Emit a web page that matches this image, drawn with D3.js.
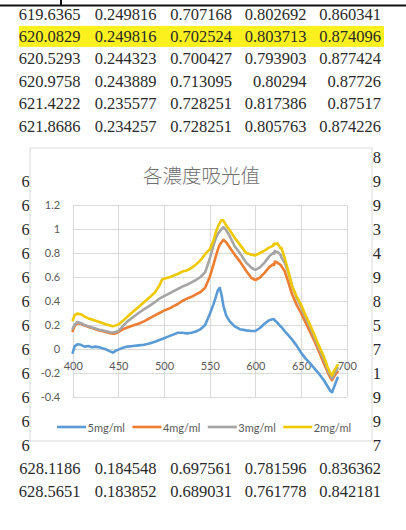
<!DOCTYPE html>
<html>
<head>
<meta charset="utf-8">
<script src="https://cdn.jsdelivr.net/npm/d3@7"></script>
<style>
  html, body { margin: 0; padding: 0; background: #fff; }
  svg { display: block; }
  .cell { font-family: "Liberation Serif", "Times New Roman", Tinos, "Noto Serif", "DejaVu Serif", "Nimbus Roman", FreeSerif, "Noto Serif CJK TC", serif; font-size: 16.5px; fill: #2a2a2a; }
  .lbl { font-family: Lato, "Open Sans", "Liberation Sans", sans-serif; font-size: 11px; fill: #595959; }
  .ttl { font-family: "Noto Sans CJK TC", "Noto Sans CJK SC", sans-serif; font-size: 19.5px; font-weight: 300; fill: #707070; }
</style>
</head>
<body>
<svg id="page" width="406" height="530"></svg>
<script>
// ---- spreadsheet rows (wavelength nm, absorbance at 5/4/3/2 mg/ml) ----
const tableRowNumber = [1, 2, 3, 4, 5, 6, 20, 21];
const tableWave = [619.6365, 620.0829, 620.5293, 620.9758, 621.4222, 621.8686, 628.1186, 628.5651];
const table5 = [0.249816, 0.249816, 0.244323, 0.243889, 0.235577, 0.234257, 0.184548, 0.183852];
const table4 = [0.707168, 0.702524, 0.700427, 0.713095, 0.728251, 0.728251, 0.697561, 0.689031];
const table3 = [0.802692, 0.803713, 0.793903, 0.80294, 0.817386, 0.805763, 0.781596, 0.761778];
const table2 = [0.860341, 0.874096, 0.877424, 0.87726, 0.87517, 0.874226, 0.836362, 0.842181];
const highlightedRow = 2;

// rows lying under the chart: only their first and last characters show
const coveredRowNumber = [7, 8, 9, 10, 11, 12, 13, 14, 15, 16, 17, 18, 19];
const coveredLead = ["", "6", "6", "6", "6", "6", "6", "6", "6", "6", "6", "6", "6"];
const coveredTail = ["8", "9", "9", "3", "4", "9", "8", "5", "7", "1", "9", "9", "7"];

// ---- chart series ----
const chartTitle = "各濃度吸光值";
const seriesNames = ["5mg/ml", "4mg/ml", "3mg/ml", "2mg/ml"];
const seriesColors = ["#5B9BD5", "#ED7D31", "#A5A5A5", "#EEC900"];
const xTicks = [400, 450, 500, 550, 600, 650, 700];
const yTicks = [-0.4, -0.2, 0, 0.2, 0.4, 0.6, 0.8, 1, 1.2];

const wavelengths = [400, 402, 405, 409, 413, 417, 421, 425, 429, 433, 437, 441, 444, 447, 450,
  455, 460, 466, 472, 478, 484, 490, 495, 498, 500, 505, 510, 515, 520, 525, 530, 535, 540, 545,
  550, 554, 557, 559, 561, 563, 565, 568, 572, 577, 583, 590, 596, 600, 605, 610, 615,
  619.6365, 620.0829, 620.5293, 620.9758, 621.4222, 621.8686, 624, 628.1186, 628.5651,
  632, 636, 640, 645, 650, 655, 660, 665, 670, 675, 679, 682, 684, 687, 690];

const abs5 = [-0.03, 0.02, 0.04, 0.035, 0.02, 0.025, 0.015, 0.02, 0.015, 0.005, -0.005, -0.02, -0.03, -0.015, -0.005,
  0.01, 0.02, 0.025, 0.03, 0.035, 0.045, 0.06, 0.075, 0.083, 0.09, 0.105, 0.12, 0.135, 0.135, 0.13, 0.135, 0.145, 0.165, 0.2,
  0.29, 0.37, 0.44, 0.49, 0.51, 0.45, 0.36, 0.28, 0.23, 0.19, 0.165, 0.155, 0.15, 0.15, 0.175, 0.21, 0.24,
  0.249816, 0.249816, 0.244323, 0.243889, 0.235577, 0.234257, 0.22, 0.184548, 0.183852,
  0.15, 0.115, 0.08, 0.03, -0.03, -0.08, -0.12, -0.165, -0.21, -0.26, -0.31, -0.35, -0.36, -0.3, -0.24];

const abs4 = [0.15, 0.19, 0.215, 0.21, 0.195, 0.185, 0.175, 0.165, 0.155, 0.148, 0.14, 0.132, 0.128, 0.13, 0.14,
  0.165, 0.18, 0.195, 0.21, 0.23, 0.255, 0.28, 0.3, 0.312, 0.32, 0.335, 0.355, 0.375, 0.4, 0.42, 0.435, 0.455, 0.475, 0.51,
  0.6, 0.7, 0.78, 0.83, 0.87, 0.89, 0.91, 0.89, 0.845, 0.79, 0.73, 0.65, 0.59, 0.575, 0.595, 0.635, 0.68,
  0.707168, 0.702524, 0.700427, 0.713095, 0.728251, 0.728251, 0.72, 0.697561, 0.689031,
  0.65, 0.56, 0.46, 0.37, 0.3, 0.22, 0.14, 0.06, -0.03, -0.12, -0.19, -0.24, -0.26, -0.22, -0.19];

const abs3 = [0.17, 0.2, 0.225, 0.215, 0.2, 0.19, 0.18, 0.17, 0.16, 0.155, 0.148, 0.14, 0.138, 0.142, 0.15,
  0.19, 0.23, 0.265, 0.3, 0.33, 0.36, 0.39, 0.42, 0.432, 0.44, 0.46, 0.48, 0.5, 0.52, 0.535, 0.555, 0.575, 0.6, 0.64,
  0.75, 0.86, 0.93, 0.96, 0.98, 1.0, 1.015, 0.99, 0.94, 0.86, 0.8, 0.72, 0.675, 0.66, 0.68, 0.72, 0.77,
  0.802692, 0.803713, 0.793903, 0.80294, 0.817386, 0.805763, 0.81, 0.781596, 0.761778,
  0.72, 0.64, 0.53, 0.43, 0.35, 0.26, 0.18, 0.09, 0.0, -0.09, -0.17, -0.22, -0.245, -0.2, -0.16];

const abs2 = [0.24, 0.28, 0.295, 0.29, 0.27, 0.255, 0.245, 0.235, 0.225, 0.215, 0.205, 0.195, 0.19, 0.195, 0.205,
  0.235, 0.27, 0.31, 0.35, 0.39, 0.43, 0.47, 0.53, 0.58, 0.585, 0.595, 0.61, 0.625, 0.645, 0.655, 0.675, 0.705, 0.74, 0.79,
  0.83, 0.9, 0.98, 1.02, 1.05, 1.075, 1.07, 1.03, 0.99, 0.93, 0.87, 0.8, 0.785, 0.78, 0.8, 0.82, 0.845,
  0.860341, 0.874096, 0.877424, 0.87726, 0.87517, 0.874226, 0.88, 0.836362, 0.842181,
  0.76, 0.65, 0.53, 0.44, 0.37, 0.28, 0.2, 0.11, 0.02, -0.065, -0.15, -0.2, -0.22, -0.17, -0.135];

const seriesValues = [abs5, abs4, abs3, abs2];

// ---- page ----
const svg = d3.select("#page");

// rule at the top of the page
svg.append("line").attr("x1", 0).attr("x2", 406).attr("y1", 5.5).attr("y2", 5.5)
  .attr("stroke", "#111").attr("stroke-width", 2);
svg.append("line").attr("x1", 61).attr("x2", 61).attr("y1", 0).attr("y2", 5)
  .attr("stroke", "#111").attr("stroke-width", 2);

// vertical centre of a spreadsheet row on the page
function rowCenter(k) {
  if (k <= 6) return 14 + 22.4 * (k - 1);
  if (k <= 19) return 157 + 24 * (k - 7);
  return 468.5 + 22.5 * (k - 20);
}
const colRight = [80.5, 156.5, 232, 306.5, 381];

// highlighted row
svg.append("rect")
  .attr("x", 19).attr("y", rowCenter(highlightedRow) - 10.5)
  .attr("width", 365).attr("height", 21)
  .attr("fill", "#FDF01F");

const tableRows = tableRowNumber.map((k, i) => ({
  k,
  cells: [tableWave[i].toFixed(4), String(table5[i]), String(table4[i]), String(table3[i]), String(table2[i])]
}));

const rowG = svg.append("g").selectAll("g").data(tableRows).join("g");
rowG.selectAll("text").data(d => d.cells.map((c, j) => ({ c, j, k: d.k }))).join("text")
  .attr("class", "cell")
  .attr("x", d => colRight[d.j])
  .attr("y", d => rowCenter(d.k) + 5.6)
  .attr("text-anchor", "end")
  .text(d => d.c);

const covered = svg.append("g");
coveredRowNumber.forEach((k, i) => {
  covered.append("text").attr("class", "cell").attr("x", 21.5).attr("y", rowCenter(k) + 5.6)
    .text(coveredLead[i]);
  covered.append("text").attr("class", "cell").attr("x", colRight[4]).attr("y", rowCenter(k) + 5.6)
    .attr("text-anchor", "end")
    .text(coveredTail[i]);
});

// ---- chart object ----
const box = { x: 30, y: 148, w: 342, h: 293 };
svg.append("rect")
  .attr("x", box.x).attr("y", box.y).attr("width", box.w).attr("height", box.h)
  .attr("fill", "#fff").attr("stroke", "#d9d9d9").attr("stroke-width", 1);

svg.append("text")
  .attr("class", "ttl")
  .attr("x", 201.5).attr("y", 174)
  .attr("text-anchor", "middle").attr("dominant-baseline", "central")
  .text(chartTitle);

const x = d3.scaleLinear().domain([400, 700]).range([72.7, 346.7]);
const y = d3.scaleLinear().domain([-0.4, 1.2]).range([397, 205]);

const grid = svg.append("g").attr("stroke", "#d9d9d9").attr("stroke-width", 1);
grid.selectAll("line.h").data(yTicks).join("line").attr("class", "h")
  .attr("x1", x(400)).attr("x2", x(700))
  .attr("y1", d => Math.round(y(d)) + 0.5).attr("y2", d => Math.round(y(d)) + 0.5);
grid.selectAll("line.v").data(xTicks).join("line").attr("class", "v")
  .attr("x1", d => Math.round(x(d)) + 0.5).attr("x2", d => Math.round(x(d)) + 0.5)
  .attr("y1", y(1.2)).attr("y2", y(-0.4));

const yAxis = svg.append("g").attr("transform", `translate(${x(400)},0)`)
  .call(d3.axisLeft(y).tickValues(yTicks).tickSize(0).tickPadding(12.5).tickFormat(d => String(d)));
const xAxis = svg.append("g").attr("transform", `translate(0,${y(0)})`)
  .call(d3.axisBottom(x).tickValues(xTicks).tickSize(0).tickPadding(13).tickFormat(d => String(d)));
[yAxis, xAxis].forEach(g => {
  g.select(".domain").remove();
  g.attr("font-family", null).attr("font-size", null);
  g.selectAll("text").attr("class", "lbl").attr("fill", null);
});

const line = d3.line().x((d, i) => x(wavelengths[i])).y(d => y(d));
svg.append("g").selectAll("path").data(seriesValues).join("path")
  .attr("d", d => line(d))
  .attr("fill", "none")
  .attr("stroke", (d, i) => seriesColors[i])
  .attr("stroke-width", 2.6)
  .attr("stroke-linejoin", "round")
  .attr("stroke-linecap", "round");

// legend
const legendY = 427;
const legend = svg.append("g").selectAll("g").data(seriesNames).join("g")
  .attr("transform", (d, i) => `translate(${57 + i * 75.4},${legendY})`);
legend.append("line").attr("x1", 0).attr("x2", 29).attr("y1", 0).attr("y2", 0)
  .attr("stroke", (d, i) => seriesColors[i]).attr("stroke-width", 2.6);
legend.append("text").attr("class", "lbl").attr("x", 30.5).attr("y", 0).attr("dominant-baseline", "central")
  .text(d => d);
</script>
</body>
</html>
